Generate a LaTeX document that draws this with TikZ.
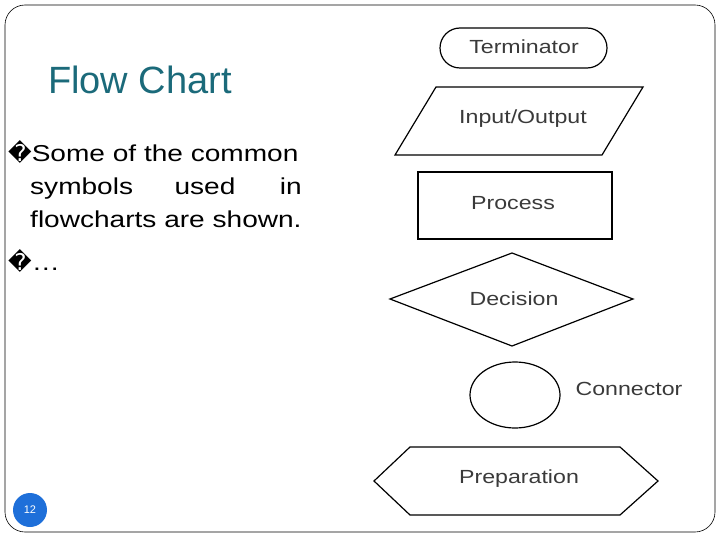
\documentclass[tikz,border=0pt]{standalone}
\usepackage{fontspec}
\setmainfont{Liberation Sans}
\newfontfamily\symfont{DejaVu Sans}
\definecolor{titleteal}{HTML}{1B6A7A}
\definecolor{pageblue}{HTML}{1E6FD9}
\definecolor{symgray}{HTML}{3A3A3A}
\newcommand{\widetext}[1]{\scalebox{1.22}[1]{#1}}
\begin{document}
\begin{tikzpicture}[x=1pt, y=-1pt,
    sym/.style = {draw, line width=1.2pt},
    symlabel/.style = {font=\fontsize{19}{19}\selectfont, text=symgray},
    body/.style = {font=\fontsize{23}{23}\selectfont, anchor=base west, inner sep=0pt}]

    \useasboundingbox (0,0) rectangle (720,540);
    \draw[rounded corners=20pt, line width=0.6pt] (5,5) rectangle (715,532);

    % title and bullets
    \node[font=\fontsize{38}{38}\selectfont, text=titleteal] (title) at (140,80) {Flow Chart};
    \node[body] (b1) at (8,162) {{\symfont\char"FFFD}\widetext{Some of the common}};
    \node[body] (b2a) at (30,195) {\widetext{symbols}};
    \node[body, anchor=base] (b2b) at (205,195) {\widetext{used}};
    \node[body, anchor=base east] (b2c) at (302,195) {\widetext{in}};
    \node[body] (b3) at (30,228) {\widetext{flowcharts are shown.}};
    \node[body] (b4) at (8,270) {{\symfont\char"FFFD}\widetext{\dots}};

    % page number
    \node[circle, fill=pageblue, minimum size=34pt, inner sep=0pt, text=white,
          font=\fontsize{11}{11}\selectfont] (page) at (30,510) {12};

    % symbols
    \draw[sym, rounded corners=20pt] (440,28) rectangle (607,68);
    \node[symlabel] (term) at (524,47) {\widetext{Terminator}};

    \draw[sym] (436,87) -- (643,87) -- (602,155) -- (395,155) -- cycle;
    \node[symlabel] (io) at (523,119) {\widetext{Input/Output}};

    \draw[sym] (418,172) rectangle (612,239);
    \node[symlabel] (proc) at (513,203) {\widetext{Process}};

    \draw[sym] (390,299) -- (512,253) -- (633,299) -- (512,346) -- cycle;
    \node[symlabel] (dec) at (514,299) {\widetext{Decision}};

    \draw[sym] (515,395) ellipse (45 and 33);
    \node[symlabel] (conn) at (629,389) {\widetext{Connector}};

    \draw[sym] (374,481) -- (410,447) -- (620,447) -- (658,481) -- (620,515) -- (410,515) -- cycle;
    \node[symlabel] (prep) at (519,479) {\widetext{Preparation}};

\end{tikzpicture}
\end{document}
